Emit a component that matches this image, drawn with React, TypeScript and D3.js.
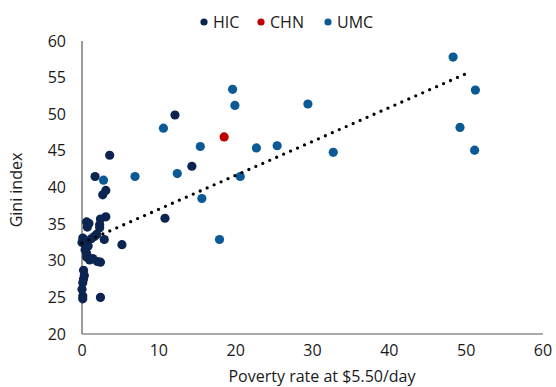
import React from "react";
import * as d3 from "d3";

const hicX = [12.1, 14.3, 10.8, 3.6, 1.7, 3.1, 2.7, 3.1, 2.4, 0.6, 0.9, 2.3, 0.7, 2.3, 0.1, 0.0, 0.4, 1.6, 1.9, 2.9, 5.2, 0.4, 0.6, 0.6, 1.0, 1.4, 2.0, 2.4, 0.2, 0.3, 0.2, 0.1, 0.0, 0.1, 0.1, 2.4, 0.8, 1.2];
const hicY = [49.9, 42.9, 35.8, 44.4, 41.5, 39.6, 39.0, 36.0, 35.7, 35.3, 35.1, 34.9, 34.6, 34.5, 33.1, 32.5, 32.7, 33.3, 33.6, 32.9, 32.2, 31.5, 31.0, 30.5, 30.1, 30.3, 29.9, 29.8, 28.7, 28.0, 27.5, 27.0, 26.1, 25.2, 24.8, 25.0, 32.0, 33.0];
const chnX = [18.5];
const chnY = [46.9];
const umcX = [48.3, 19.6, 19.9, 29.4, 51.2, 10.6, 15.4, 22.7, 25.4, 49.2, 12.4, 6.9, 2.8, 20.6, 32.7, 51.1, 15.6, 17.9];
const umcY = [57.8, 53.4, 51.2, 51.4, 53.3, 48.1, 45.6, 45.4, 45.7, 48.2, 41.9, 41.5, 41.0, 41.5, 44.8, 45.1, 38.5, 32.9];
const trendIntercept = 32.4;
const trendSlope = 0.463;
const trendRange = [0, 50.4];
const xTicks = [0, 10, 20, 30, 40, 50, 60];
const yTicks = [20, 25, 30, 35, 40, 45, 50, 55, 60];
const seriesNames = ["HIC", "CHN", "UMC"];
const seriesColors = ["#0b2550", "#c00000", "#0b5a96"];

export default function App() {
  const W = 556, H = 387;
  const x = d3.scaleLinear().domain([0, 60]).range([82, 543]);
  const y = d3.scaleLinear().domain([20, 60]).range([334, 41]);
  const font = "'Open Sans', sans-serif";
  const fs = 16;
  const series = [
    { xs: hicX, ys: hicY },
    { xs: chnX, ys: chnY },
    { xs: umcX, ys: umcY },
  ];
  const legendX = [204, 261, 328];
  const line = d3.line<number>().x((v) => x(v)).y((v) => y(trendIntercept + trendSlope * v));
  return (
    <svg width={W} height={H} style={{ position: "absolute", left: 0, top: 0, background: "#fff" }} fontFamily={font}>
      <line x1={x(0)} x2={x(0)} y1={y(60)} y2={y(20)} stroke="#595959" strokeWidth={1.2} />
      <line x1={x(0)} x2={x(60)} y1={y(20)} y2={y(20)} stroke="#595959" strokeWidth={1.2} />
      {yTicks.map((t) => (
        <text key={"y" + t} x={66} y={y(t)} dy="0.35em" textAnchor="end" fontSize={fs} fill="#1a1a1a">{t}</text>
      ))}
      {xTicks.map((t) => (
        <text key={"x" + t} x={x(t)} y={356} textAnchor="middle" fontSize={fs} fill="#1a1a1a">{t}</text>
      ))}
      <text x={322} y={382} textAnchor="middle" fontSize={fs} fill="#1a1a1a">Poverty rate at $5.50/day</text>
      <text transform={`translate(22,190) rotate(-90)`} textAnchor="middle" fontSize={fs} fill="#1a1a1a">Gini index</text>
      {series.map((s, si) =>
        s.xs.map((xv, i) => (
          <circle key={si + "-" + i} cx={x(xv)} cy={y(s.ys[i])} r={4.6} fill={seriesColors[si]} />
        ))
      )}
      <path d={line(d3.range(trendRange[0], trendRange[1] + 0.01, 0.1)) || ""} fill="none" stroke="#000" strokeWidth={3.3} strokeLinecap="round" strokeDasharray="0 7.6" />
      {seriesNames.map((n, i) => (
        <g key={n}>
          <circle cx={legendX[i]} cy={22} r={3.6} fill={seriesColors[i]} />
          <text x={legendX[i] + 9} y={22} dy="0.35em" fontSize={fs} fill="#1a1a1a">{n}</text>
        </g>
      ))}
    </svg>
  );
}
